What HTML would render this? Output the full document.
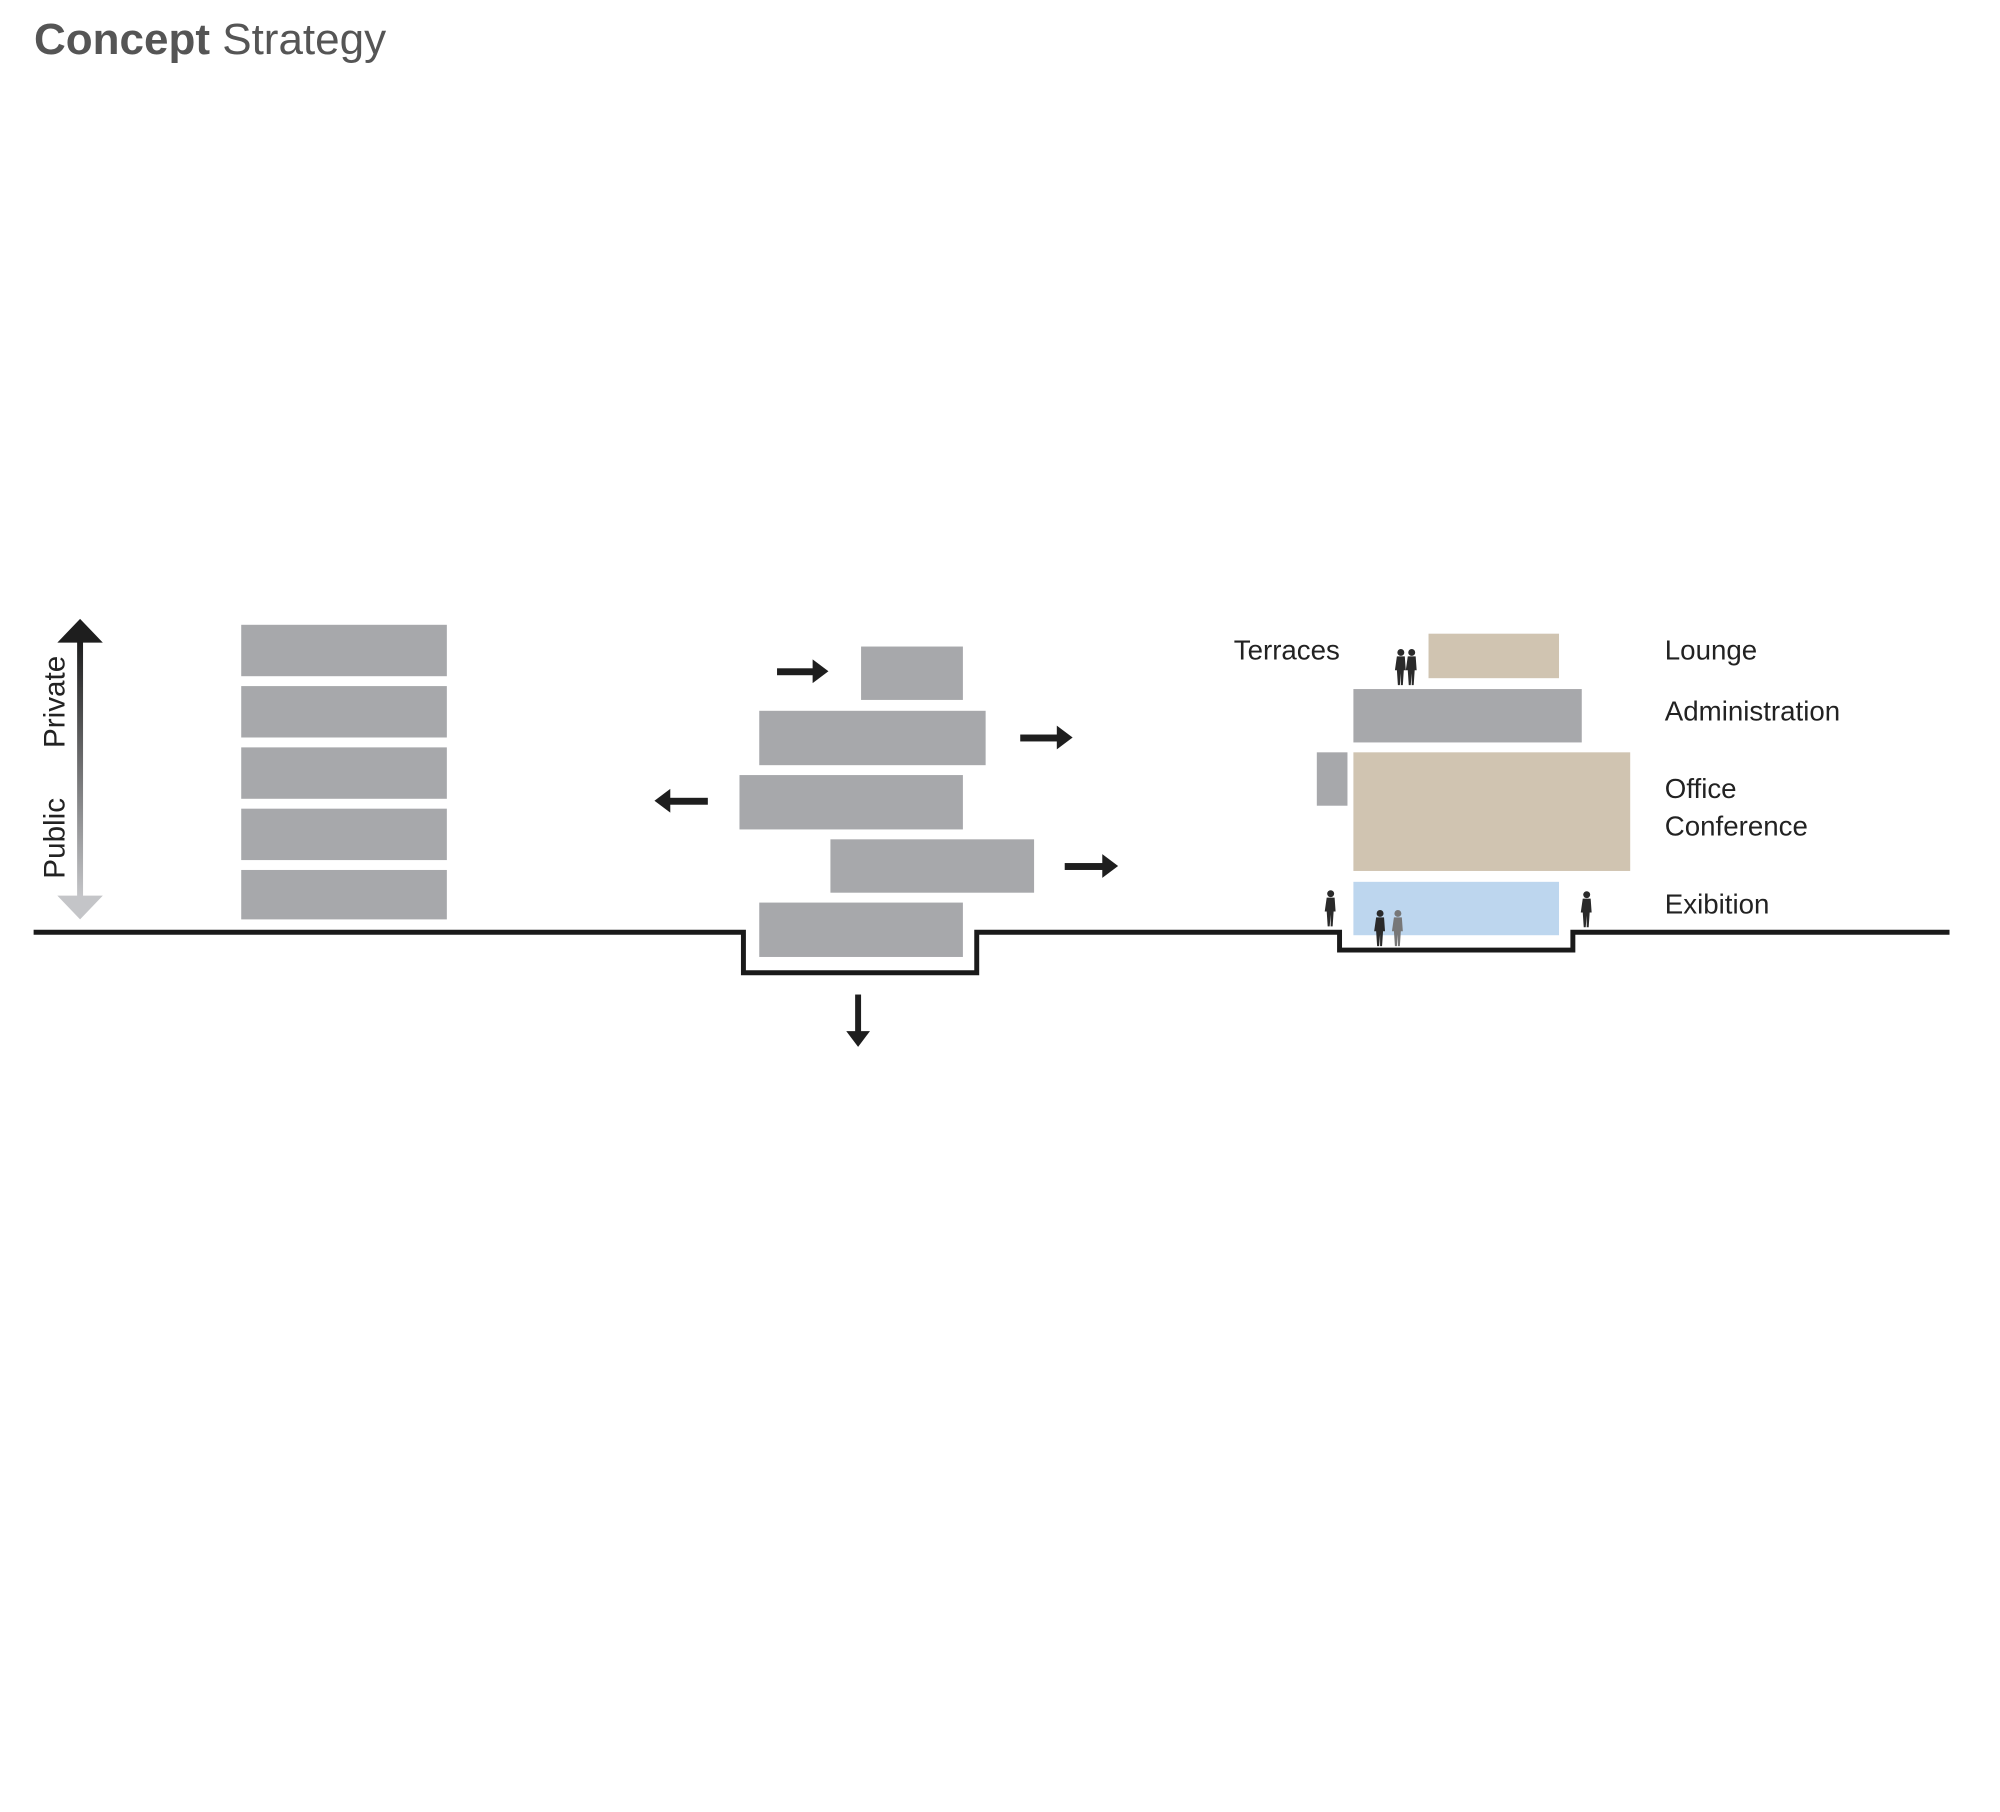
<!DOCTYPE html>
<html><head><meta charset="utf-8"><style>
html,body{margin:0;padding:0;background:#fff;}
svg{display:block;}
text{font-family:"Liberation Sans",sans-serif;}
</style></head><body>
<svg width="2000" height="1812" viewBox="0 0 2000 1812" xmlns="http://www.w3.org/2000/svg">
<defs>
<linearGradient id="g" x1="0" y1="0" x2="0" y2="1">
<stop offset="0" stop-color="#1a1a1a"/><stop offset="1" stop-color="#c8c9cc"/>
</linearGradient>
<g id="p"><circle cx="0" cy="-33" r="3.5"/><path d="M-4,-29 h8 l1,14 h-2 l-1,15 h-2 l0,-12 l-1,12 h-2 l-1,-15 h-2z"/></g>
</defs>
<text x="34" y="54" font-size="44" fill="#555"><tspan font-weight="bold">Concept</tspan> Strategy</text>
<g transform="scale(0.9886)">
<!-- vertical arrow -->
<rect x="78" y="645" width="6" height="268" fill="url(#g)"/>
<polygon points="81,626 104,650 58,650" fill="#1e1e1e"/>
<polygon points="81,930 104,906 58,906" fill="#c4c5c8"/>
<text transform="translate(65,710) rotate(-90)" text-anchor="middle" font-size="30" fill="#222">Private</text>
<text transform="translate(65,848) rotate(-90)" text-anchor="middle" font-size="30" fill="#222">Public</text>

<g fill="#a7a8ab">
<rect x="244" y="632" width="208" height="52"/>
<rect x="244" y="694" width="208" height="52"/>
<rect x="244" y="756" width="208" height="52"/>
<rect x="244" y="818" width="208" height="52"/>
<rect x="244" y="880" width="208" height="50"/>
<rect x="871" y="654" width="103" height="54"/>
<rect x="768" y="719" width="229" height="55"/>
<rect x="748" y="784" width="226" height="55"/>
<rect x="840" y="849" width="206" height="54"/>
<rect x="768" y="913" width="206" height="55"/>
<rect x="1369" y="697" width="231" height="54"/>
<rect x="1332" y="761" width="31" height="54"/>
</g>
<rect x="1445" y="641" width="132" height="45" fill="#d0c4b1"/>
<rect x="1369" y="761" width="280" height="120" fill="#d0c4b1"/>
<rect x="1369" y="892" width="208" height="54" fill="#bdd6ee"/>

<path d="M34,943 H752 V984 H988 V943 H1355 V961 H1591 V943 H1972" fill="none" stroke="#1a1a1a" stroke-width="5"/>

<g fill="#1e1e1e">
<rect x="786" y="676" width="38" height="7"/><polygon points="838,679 822,667 822,691"/>
<rect x="1032" y="743" width="39" height="7"/><polygon points="1085,746 1069,734 1069,758"/>
<rect x="676" y="807" width="40" height="7"/><polygon points="662,810 678,798 678,822"/>
<rect x="1077" y="873" width="40" height="7"/><polygon points="1131,876 1115,864 1115,888"/>
<rect x="865" y="1006" width="6" height="40"/><polygon points="868,1059 856,1043 880,1043"/>
</g>

<g fill="#2a2a2a">
<use href="#p" transform="translate(1417,693)"/>
<use href="#p" transform="translate(1428,693)"/>
<use href="#p" transform="translate(1346,937)"/>
<use href="#p" transform="translate(1396,957)"/>
<use href="#p" transform="translate(1605,938)"/>
</g>
<use href="#p" transform="translate(1414,957)" fill="#777"/>

<g font-size="28" fill="#222">
<text x="1248" y="667">Terraces</text>
<text x="1684" y="667">Lounge</text>
<text x="1684" y="729">Administration</text>
<text x="1684" y="807">Office</text>
<text x="1684" y="845">Conference</text>
<text x="1684" y="924">Exibition</text>
</g>
</g>
</svg>
</body></html>
